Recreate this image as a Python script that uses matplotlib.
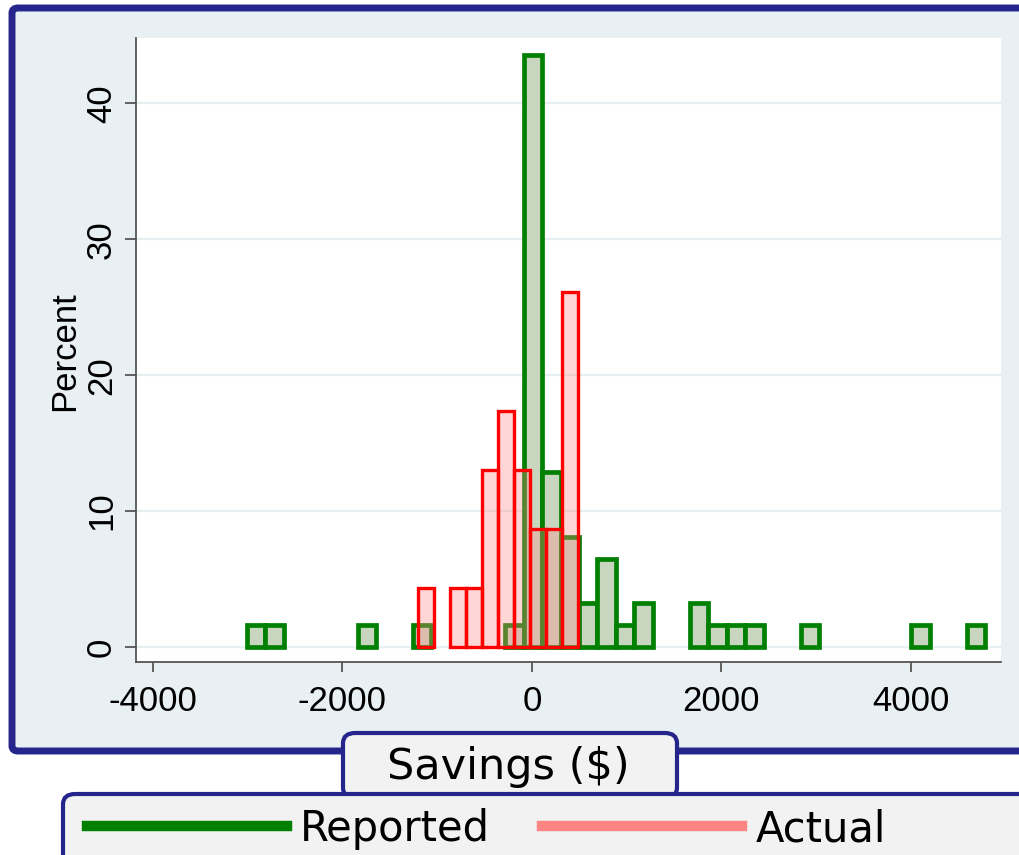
import matplotlib
matplotlib.use('Agg')
import matplotlib.pyplot as plt
from matplotlib.patches import FancyBboxPatch
from matplotlib.lines import Line2D
import numpy as np

# ---------------- data ----------------
reported_start = -3010.0
reported_width = 194.8
reported_pct = [1.61, 1.61, 0, 0, 0, 0, 1.61, 0, 0, 1.61,
                0, 0, 0, 0, 1.61, 43.55, 12.90, 8.06, 3.23, 6.45,
                1.61, 3.23, 0, 0, 3.23, 1.61, 1.61, 1.61, 0, 0,
                1.61, 0, 0, 0, 0, 0, 1.61, 0, 0, 1.61]

actual_start = -1203.0
actual_width = 168.8
actual_pct = [4.35, 0, 4.35, 4.35, 13.04, 17.39, 13.04, 8.70, 8.70, 26.09]

x_ticks = [-4000, -2000, 0, 2000, 4000]
y_ticks = [0, 10, 20, 30, 40]
series_labels = ["Reported", "Actual"]
x_label = "Savings ($)"
y_label = "Percent"

# ---------------- style ----------------
W, H = 1020, 855
NAVY = '#25258C'
BG = '#E9F0F3'
GREEN = '#008000'
GREEN_FILL = '#C8D6C0'
RED = '#FF0000'
RED_FILL = (1.0, 0.55, 0.55, 0.35)
PINK = '#FF8585'


def fx(px):
    return px / W


def fy(py):
    return 1 - py / H


fig = plt.figure(figsize=(W / 100, H / 100), dpi=100)
fig.patch.set_facecolor('white')

# outer graph region frame
frame = FancyBboxPatch((fx(12), fy(751)), fx(1040) - fx(12), fy(8) - fy(751),
                       boxstyle='round,pad=0,rounding_size=0.006',
                       transform=fig.transFigure, facecolor=BG,
                       edgecolor=NAVY, linewidth=5, zorder=-2)
fig.add_artist(frame)

# x title box
tbox = FancyBboxPatch((fx(343), fy(798)), fx(677) - fx(343), fy(733) - fy(798),
                      boxstyle='round,pad=0,rounding_size=0.012',
                      transform=fig.transFigure, facecolor='#F2F2F2',
                      edgecolor=NAVY, linewidth=3, zorder=-1)
fig.add_artist(tbox)

# legend box
lbox = FancyBboxPatch((fx(63), fy(880)), fx(1060) - fx(63), fy(794) - fy(880),
                      boxstyle='round,pad=0,rounding_size=0.012',
                      transform=fig.transFigure, facecolor='#F2F2F2',
                      edgecolor=NAVY, linewidth=3, zorder=-1)
fig.add_artist(lbox)

ax = fig.add_axes([fx(136), fy(662), fx(1001) - fx(136), fy(38) - fy(662)])
ax.set_facecolor('white')

# reported histogram
r_edges = reported_start + reported_width * np.arange(len(reported_pct))
r_vals = np.array(reported_pct, dtype=float)
m = r_vals > 0
ax.bar(r_edges[m], r_vals[m], width=reported_width, align='edge',
       facecolor=GREEN_FILL, edgecolor=GREEN, linewidth=3.4, zorder=2)

# actual histogram
a_edges = actual_start + actual_width * np.arange(len(actual_pct))
a_vals = np.array(actual_pct, dtype=float)
m = a_vals > 0
ax.bar(a_edges[m], a_vals[m], width=actual_width, align='edge',
       facecolor=RED_FILL, edgecolor=RED, linewidth=2.4, zorder=3)

ax.set_xlim(-4179, 4950)
ax.set_ylim(-1.1, 44.8)

ax.set_yticks(y_ticks)
ax.set_xticks(x_ticks)
ax.set_xticklabels([str(t) for t in x_ticks])
ax.set_yticklabels([str(t) for t in y_ticks], rotation=90, va='center')
ax.grid(axis='y', color='#E6EFF1', linewidth=1.6, zorder=0)
ax.set_axisbelow(True)

for s in ['top', 'right']:
    ax.spines[s].set_visible(False)
for s in ['left', 'bottom']:
    ax.spines[s].set_color('#555555')
    ax.spines[s].set_linewidth(1.3)

ax.tick_params(axis='both', direction='out', color='#555555', width=1.3,
               labelsize=25)
ax.tick_params(axis='x', length=7.5, pad=9)
ax.tick_params(axis='y', length=8, pad=5)
for lab in ax.get_xticklabels() + ax.get_yticklabels():
    lab.set_fontfamily('Liberation Sans')

ax.set_ylabel(y_label, family='Liberation Sans', fontsize=25)
ax.yaxis.set_label_coords((65 - 136) / 865, (662 - 351) / 624)
ax.yaxis.label.set_va('center')

ax.set_xlabel(x_label, family='DejaVu Sans', fontsize=31)
ax.xaxis.set_label_coords((508 - 136) / 865, (662 - 767) / 624)
ax.xaxis.label.set_va('center')

handles = [Line2D([], [], color=GREEN, linewidth=7.5),
           Line2D([], [], color=PINK, linewidth=7.5)]
fig.legend(handles, series_labels, loc='center left',
           bbox_to_anchor=(fx(87), fy(829)), ncol=2, frameon=False,
           prop=dict(family='DejaVu Sans', size=30),
           handlelength=4.8, handletextpad=0.32, columnspacing=1.25,
           borderpad=0, borderaxespad=0)

fig.savefig('out.png', dpi=100)
